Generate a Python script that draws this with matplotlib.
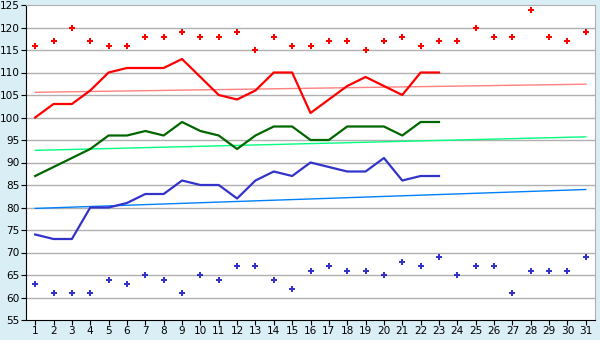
import matplotlib

matplotlib.use("Agg")
import matplotlib.pyplot as plt
import numpy as np

days = np.arange(1, 32)
line_days = np.arange(1, 24)

upper_points = [116, 117, 120, 117, 116, 116, 118, 118, 119, 118, 118, 119, 115, 118, 116, 116,
                117, 117, 115, 117, 118, 116, 117, 117, 120, 118, 118, 124, 118, 117, 119]
lower_points = [63, 61, 61, 61, 64, 63, 65, 64, 61, 65, 64, 67, 67, 64, 62, 66,
                67, 66, 66, 65, 68, 67, 69, 65, 67, 67, 61, 66, 66, 66, 69]

red_line = [100, 103, 103, 106, 110, 111, 111, 111, 113, 109, 105, 104, 106, 110, 110, 101,
            104, 107, 109, 107, 105, 110, 110]
green_line = [87, 89, 91, 93, 96, 96, 97, 96, 99, 97, 96, 93, 96, 98, 98, 95,
              95, 98, 98, 98, 96, 99, 99]
blue_line = [74, 73, 73, 80, 80, 81, 83, 83, 86, 85, 85, 82, 86, 88, 87, 90,
             89, 88, 88, 91, 86, 87, 87]

# trend lines: value at day 1 and at day 31
red_trend = [105.6, 107.4]
green_trend = [92.7, 95.7]
blue_trend = [79.8, 84.0]

bg = "#daeef5"
fig = plt.figure(figsize=(6, 3.4), dpi=100, facecolor=bg)
ax = fig.add_axes([26 / 600, 20 / 340, 569 / 600, 315 / 340])
ax.set_facecolor("white")

for y in range(60, 125, 5):
    ax.axhline(y, color="#b0b0b0", lw=1, zorder=0)

ends = [days[0], days[-1]]
ax.plot(ends, red_trend, color="#ff8080", lw=1)
ax.plot(ends, green_trend, color="#00ff80", lw=1)
ax.plot(ends, blue_trend, color="#0080ff", lw=1)

ax.plot(line_days, red_line, color="#ff0000", lw=1.6)
ax.plot(line_days, green_line, color="#006600", lw=1.6)
ax.plot(line_days, blue_line, color="#3333cc", lw=1.6)

ax.plot(days, upper_points, ls="none", marker="P", ms=5, color="#ff0000", mew=0)
ax.plot(days, lower_points, ls="none", marker="P", ms=5, color="#3333cc", mew=0)

ax.set_xlim(0.5, 31.5)
ax.set_ylim(55, 125)
ax.set_xticks(days)
ax.set_yticks(range(55, 126, 5))
ax.tick_params(labelsize=7.6, length=3.5, color="black", pad=1)

for side in ("top", "right"):
    ax.spines[side].set_color("#b0b0b0")
for side in ("left", "bottom"):
    ax.spines[side].set_color("black")

fig.savefig("out.png", dpi=100, facecolor=bg)
